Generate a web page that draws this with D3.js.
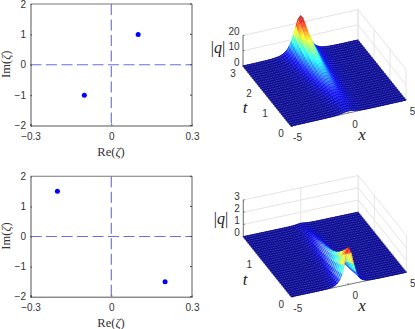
<!DOCTYPE html>
<html><head><meta charset="utf-8">
<script src="https://cdn.jsdelivr.net/npm/d3@7"></script>
<style>html,body{margin:0;padding:0;background:#fff}svg{display:block}</style>
</head><body><svg id="c" width="415" height="329"></svg>
<script>
// --- data ---
const polesTop = [[0.1, 1], [-0.1, -1]];
const polesBottom = [[-0.2, 1.5], [0.2, -1.5]];
const reTicks = [-0.3, 0, 0.3];
const imTicks = [-2, -1, 0, 1, 2];

// x samples of the surface meshes (every mesh column)
const xSamples = [-5,-4.8,-4.6,-4.4,-4.2,-4,-3.8,-3.6,-3.4,-3.2,-3,-2.8,-2.6,-2.4,-2.2,-2,-1.8,-1.6,-1.4,-1.2,-1,-0.8,-0.6,-0.4,-0.2,0,0.2,0.4,0.6,0.8,1,1.2,1.4,1.6,1.8,2,2.2,2.4,2.6,2.8,3,3.2,3.4,3.6,3.8,4,4.2,4.4,4.6,4.8,5];

// top surface: t samples, ridge height per t, relative cross-section per x
const tTop = [0,0.1,0.2,0.3,0.4,0.5,0.6,0.7,0.8,0.9,1,1.1,1.2,1.3,1.4,1.5,1.6,1.7,1.8,1.9,2,2.1,2.2,2.3,2.4,2.5,2.6,2.7,2.8,2.9,3];
const ridgeTop = [1.4,1.5,1.7,1.9,2.1,2.4,2.7,3,3.3,3.7,4.1,4.6,5.1,5.7,6.3,6.9,7.6,8.2,8.9,9.7,10.6,11.5,12.6,13.7,14.8,16.1,17.5,19,20.6,22.4,24.3];
const crossTop = [0,0,0,0,0,0,0,.001,.001,.002,.003,.005,.008,.012,.018,.026,.04,.065,.1,.15,.24,.36,.53,.74,.93,1,.93,.74,.53,.36,.24,.15,.1,.065,.04,.026,.018,.012,.008,.005,.003,.002,.001,.001,0,0,0,0,0,0,0];

// bottom surface
const tBottom = [0,0.05,0.1,0.15,0.2,0.25,0.3,0.35,0.4,0.45,0.5,0.55,0.6,0.65,0.7,0.75,0.8,0.85,0.9,0.95,1,1.05,1.1,1.15,1.2,1.25,1.3,1.35,1.4,1.45,1.5];
const ridgeBottom = [3,2.75,2.5,2.28,2.05,1.85,1.65,1.48,1.32,1.2,1.08,.98,.9,.82,.75,.68,.62,.57,.52,.47,.42,.38,.34,.3,.27,.24,.2,.17,.14,.11,.09];
const crossBottom = [0,0,0,0,0,0,0,0,0,0,0,0,.001,.002,.003,.005,.009,.016,.03,.055,.1,.18,.32,.55,.85,1,.85,.55,.32,.18,.1,.055,.03,.016,.009,.005,.003,.002,.001,0,0,0,0,0,0,0,0,0,0,0,0];

const xTicks3d = [-5, 0, 5];
const tTicksTop = [0, 1, 2, 3];
const zTicksTop = [0, 10, 20];
const tTicksBottom = [0, 1];
const zTicksBottom = [0, 1, 2, 3];

// --- drawing ---
const svg = d3.select("#c");
const SANS = "'Liberation Sans',Arial,sans-serif", SERIF = "'Liberation Serif',serif";
const jetStops = ["#00008f","#0000ff","#00ffff","#ffff00","#ff0000","#800000"];
const jetPos = [0,0.125,0.375,0.625,0.875,1];

function pole2d(top, bottom, poles) {
  const g = svg.append("g");
  const sx = d3.scaleLinear().domain([-0.3, 0.3]).range([30.5, 192]);
  const sy = d3.scaleLinear().domain([-2, 2]).range([bottom, top]);
  g.append("line").attr("x1", sx(-0.3)).attr("x2", sx(0.3)).attr("y1", sy(0)).attr("y2", sy(0))
    .attr("stroke", "#5a5ae0").attr("stroke-width", 0.9).attr("stroke-dasharray", "11 4.5");
  g.append("line").attr("x1", sx(0)).attr("x2", sx(0)).attr("y1", sy(2)).attr("y2", sy(-2))
    .attr("stroke", "#4a4ab8").attr("stroke-width", 0.9).attr("stroke-dasharray", "11 4.5");
  const axX = g.append("g").attr("transform", `translate(0,${bottom})`)
    .call(d3.axisBottom(sx).tickValues(reTicks).tickSize(-1.5).tickFormat(d3.format("~g")).tickPadding(5.5));
  const axY = g.append("g").attr("transform", "translate(30.5,0)")
    .call(d3.axisLeft(sy).tickValues(imTicks).tickSize(-1.5).tickFormat(d3.format("~g")).tickPadding(4.5));
  [axX, axY].forEach(a => {
    a.selectAll("path").attr("stroke", "#555").attr("stroke-width", 1);
    a.selectAll("line").attr("stroke", "#444");
    a.selectAll("text").attr("font-family", SANS).attr("font-size", 10).attr("fill", "#333");
  });
  axX.selectAll("text").attr("dy", "0.85em");
  axY.selectAll("text").attr("dy", "0.3em");
  // top and right box edges
  g.append("line").attr("x1", sx(-0.3)).attr("x2", sx(0.3)).attr("y1", top).attr("y2", top).attr("stroke", "#777").attr("stroke-width", 1.1);
  g.append("line").attr("x1", sx(0.3)).attr("x2", sx(0.3)).attr("y1", top).attr("y2", bottom).attr("stroke", "#999").attr("stroke-width", 1.6);
  // right ticks
  imTicks.forEach(v => g.append("line").attr("x1", 190).attr("x2", 192).attr("y1", sy(v)).attr("y2", sy(v)).attr("stroke", "#444"));
  g.selectAll("circle").data(poles).join("circle")
    .attr("cx", d => sx(d[0])).attr("cy", d => sy(d[1])).attr("r", 2.5).attr("fill", "#0000ff");
  const lab = (tx, tf) => {
    const t = g.append("text").attr("font-family", SERIF).attr("font-size", 12.5).attr("fill", "#333")
      .attr("text-anchor", "middle").attr("transform", tf);
    t.append("tspan").text(tx);
    t.append("tspan").text("(");
    t.append("tspan").attr("font-style", "italic").text("ζ");
    t.append("tspan").text(")");
  };
  lab("Re", `translate(111,${bottom + 30})`);
  lab("Im", `translate(10,${(top + bottom) / 2 - 0.5}) rotate(-90)`);
}

function surface(cfg) {
  const g = svg.append("g");
  const tMax = d3.max(cfg.t), zMax = d3.max(cfg.zTicks);
  const pxX = d3.scaleLinear().domain([-5, 5]).range([0, cfg.xVec[0]]);
  const pyX = d3.scaleLinear().domain([-5, 5]).range([0, cfg.xVec[1]]);
  const pxT = d3.scaleLinear().domain([0, tMax]).range([0, cfg.tVec[0]]);
  const pyT = d3.scaleLinear().domain([0, tMax]).range([0, cfg.tVec[1]]);
  const pyZ = d3.scaleLinear().domain([0, zMax]).range([0, -cfg.zLen]);
  const P = (x, t, z) => [cfg.o[0] + pxX(x) + pxT(t), cfg.o[1] + pyX(x) + pyT(t) + pyZ(z)];
  const seg = (a, b, col, w, par) => (par || g).append("line").attr("x1", a[0]).attr("y1", a[1]).attr("x2", b[0]).attr("y2", b[1])
    .attr("stroke", col).attr("stroke-width", w);
  const GRID = "#e4e4e4";
  // walls
  cfg.zTicks.forEach(z => {
    seg(P(-5, tMax, z), P(5, tMax, z), GRID, 1);
    seg(P(5, tMax, z), P(5, 0, z), GRID, 1);
  });
  xTicks3d.forEach(x => seg(P(x, tMax, 0), P(x, tMax, zMax), GRID, 1));
  cfg.tTicks.forEach(t => seg(P(5, t, 0), P(5, t, zMax), GRID, 1));
  if (cfg.tTicks.indexOf(tMax) < 0) seg(P(5, tMax, 0), P(5, tMax, zMax), GRID, 1);
  // axes
  const AX = "#555";
  seg(P(-5, tMax, 0), P(-5, tMax, zMax), AX, 0.8);
  seg(P(-5, tMax, 0), P(-5, 0, 0), AX, 0.8);
  seg(P(-5, 0, 0), P(5, 0, 0), AX, 0.8);
  cfg.zTicks.forEach(z => seg(P(-5, tMax, z), [P(-5, tMax, z)[0] + 1.5, P(-5, tMax, z)[1] - 0.3], AX, 0.8));
  cfg.tTicks.forEach(t => seg(P(-5, t, 0), [P(-5, t, 0)[0] + 2, P(-5, t, 0)[1] + 0.6], AX, 0.8));
  xTicks3d.forEach(x => seg(P(x, 0, 0), [P(x, 0, 0)[0] - 1, P(x, 0, 0)[1] - 1.5], AX, 0.8));

  // colour map
  const zTop = d3.max(cfg.ridge);
  const jet = d3.scaleLinear().domain(jetPos.map(p => p * zTop)).range(jetStops).clamp(true);
  const Z = (i, j) => cfg.ridge[i] * cfg.cross[j];
  const mesh = g.append("g").attr("stroke-linecap", "round");
  for (let i = cfg.t.length - 2; i >= 0; i--) {
    for (let j = xSamples.length - 2; j >= 0; j--) {
      const pts = [[j, i], [j + 1, i], [j + 1, i + 1], [j, i + 1]]
        .map(([a, b]) => P(xSamples[a], cfg.t[b], Z(b, a)));
      const m = (Z(i, j) + Z(i, j + 1) + Z(i + 1, j) + Z(i + 1, j + 1)) / 4;
      // the dense column lines leave little white on flat ground, more on steep ground
      const rise = Math.max(0, Math.min(1, (m - 0.08 * zTop) / (0.1 * zTop)));
      const white = 0.13 + cfg.gap * rise;
      const f = d3.interpolateRgb(jet(m), "#fff")(white);
      mesh.append("polygon").attr("points", pts.map(p => p.join(",")).join(" "))
        .attr("fill", f).attr("stroke", f).attr("stroke-width", 0.35);
      seg(pts[3], pts[2], jet((Z(i + 1, j) + Z(i + 1, j + 1)) / 2), 0.85, mesh);
      if (i === 0) seg(pts[0], pts[1], jet((Z(0, j) + Z(0, j + 1)) / 2), 0.85, mesh);
    }
  }
  // tick labels
  const txt = (s, x, y, size, opt = {}) => g.append("text").attr("x", x).attr("y", y)
    .attr("font-family", opt.family || SANS).attr("font-size", size).attr("fill", opt.fill || "#333")
    .attr("font-style", opt.style || null).attr("text-anchor", opt.anchor || "middle")
    .attr("dominant-baseline", "central").text(s);
  xTicks3d.forEach(x => { const p = P(x, 0, 0); txt(x, p[0] + 6.5, p[1] + 11.5, 10); });
  cfg.tTicks.forEach(t => { const p = P(-5, t, 0); txt(t, p[0] - 10, p[1] + 7.5, 10); });
  cfg.zTicks.forEach(z => { const p = P(-5, tMax, z); txt(z, p[0] - 3.5, p[1] - 4, 10, { anchor: "end" }); });
  const q = g.append("text").attr("x", cfg.qPos[0]).attr("y", cfg.qPos[1]).attr("font-family", SERIF)
    .attr("font-size", 16).attr("fill", "#222").attr("text-anchor", "middle").attr("dominant-baseline", "central");
  q.append("tspan").text("|"); q.append("tspan").attr("font-style", "italic").text("q"); q.append("tspan").text("|");
  txt("t", cfg.tPos[0], cfg.tPos[1], 17, { family: SERIF, style: "italic", fill: "#222" });
  txt("x", cfg.xPos[0], cfg.xPos[1], 17, { family: SERIF, style: "italic", fill: "#222" });
}

pole2d(4, 125.5, polesTop);
pole2d(176.3, 296.7, polesBottom);
surface({ o: [291, 126], xVec: [115, -26], tVec: [-48, -60], zLen: 30.5, t: tTop, ridge: ridgeTop, cross: crossTop, gap: 0.12,
  tTicks: tTicksTop, zTicks: zTicksTop, qPos: [218, 47], tPos: [245, 107], xPos: [362, 134] });
surface({ o: [291.3, 296.7], xVec: [115, -24.5], tVec: [-48, -60], zLen: 36.7, t: tBottom, ridge: ridgeBottom, cross: crossBottom, gap: 0.45,
  tTicks: tTicksBottom, zTicks: zTicksBottom, qPos: [221, 218], tPos: [245, 279], xPos: [362, 305] });
</script></body></html>
